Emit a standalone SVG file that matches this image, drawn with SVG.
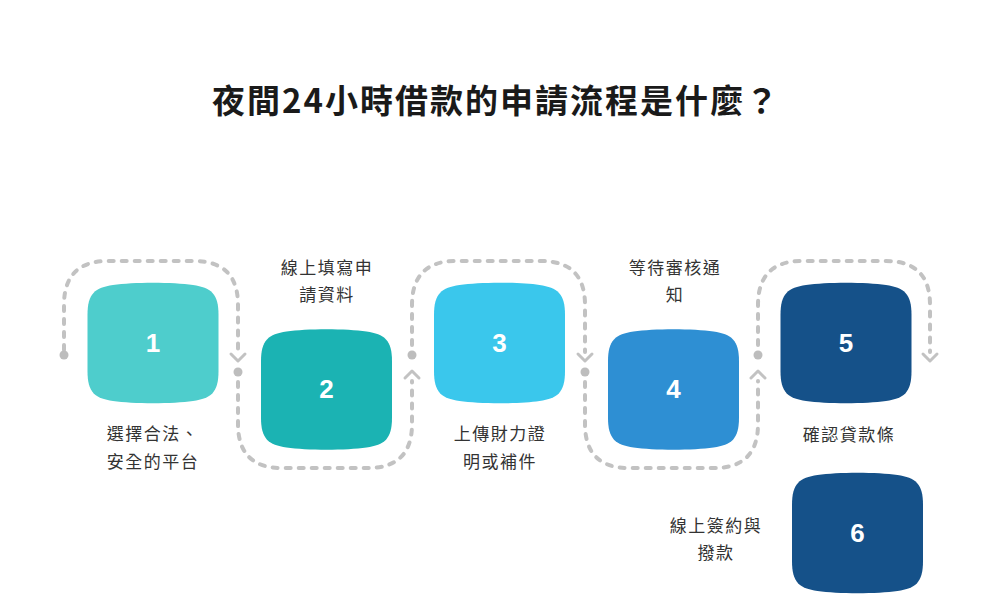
<svg xmlns="http://www.w3.org/2000/svg" width="1000" height="600" viewBox="0 0 1000 600">
<defs>
<style>
.title{font-family:"Noto Sans CJK TC","Noto Sans CJK SC",sans-serif;font-size:33px;font-weight:700;fill:#1a1a1a;letter-spacing:2px}
.lbl{font-family:"Noto Sans CJK TC","Noto Sans CJK SC",sans-serif;font-size:17px;fill:#333333;letter-spacing:1.5px}
.num{font-family:"Liberation Sans",Arial,sans-serif;font-size:26px;font-weight:700;fill:#ffffff}
.dash{fill:none;stroke:#c2c2c2;stroke-width:4;stroke-linecap:round;stroke-dasharray:5 8}
.chev{fill:none;stroke:#c2c2c2;stroke-width:3;stroke-linecap:round;stroke-linejoin:round}
.dot{fill:#bdbdbd}
</style>
<path id="blob" d="M-65.5,-28 C-65.5,-50 -58,-55 -40,-58 C-20,-61 20,-61 40,-58 C58,-55 65.5,-50 65.5,-28 L65.5,28 C65.5,50 58,55 40,58 C20,61 -20,61 -40,58 C-58,55 -65.5,50 -65.5,28 Z"/>
</defs>
<rect width="1000" height="600" fill="#ffffff"/>
<text class="title" x="496" y="113" text-anchor="middle">夜間24小時借款的申請流程是什麼？</text>

<g id="connectors">
<path class="dash" d="M64,350 L64,305 Q64,261 108,261 L194,261 Q238,261 238,305 L238,352"/>
<polyline class="chev" points="231,354 238,361 245,354"/>
<circle class="dot" cx="64" cy="355" r="4.5"/>
<circle class="dot" cx="238" cy="372" r="4.5"/>
<path class="dash" d="M238,382 L238,424 Q238,468 282,468 L368,468 Q412,468 412,424 L412,381"/>
<polyline class="chev" points="405,378 412,371 419,378"/>
<circle class="dot" cx="412" cy="355" r="4.5"/>
<path class="dash" d="M412,345 L412,305 Q412,261 456,261 L541,261 Q585,261 585,305 L585,352"/>
<polyline class="chev" points="578,354 585,361 592,354"/>
<circle class="dot" cx="585" cy="372" r="4.5"/>
<path class="dash" d="M585,382 L585,424 Q585,468 629,468 L714,468 Q758,468 758,424 L758,381"/>
<polyline class="chev" points="751,378 758,371 765,378"/>
<circle class="dot" cx="758" cy="355" r="4.5"/>
<path class="dash" d="M758,345 L758,305 Q758,261 802,261 L886,261 Q930,261 930,305 L930,352"/>
<polyline class="chev" points="923,354 930,361 937,354"/>
</g>

<g id="node1">
<use href="#blob" transform="translate(153,343)" fill="#4ecdcc"/>
<text class="num" x="153" y="352" text-anchor="middle">1</text>
<text class="lbl" text-anchor="middle" x="153" y="440">選擇合法、</text>
<text class="lbl" text-anchor="middle" x="153" y="468">安全的平台</text>
</g>
<g id="node2">
<use href="#blob" transform="translate(326.5,389.5)" fill="#1bb3b3"/>
<text class="num" x="326.5" y="398" text-anchor="middle">2</text>
<text class="lbl" text-anchor="middle" x="327" y="274">線上填寫申</text>
<text class="lbl" text-anchor="middle" x="327" y="301">請資料</text>
</g>
<g id="node3">
<use href="#blob" transform="translate(499.5,343)" fill="#3ac7ec"/>
<text class="num" x="499.5" y="352" text-anchor="middle">3</text>
<text class="lbl" text-anchor="middle" x="500" y="440">上傳財力證</text>
<text class="lbl" text-anchor="middle" x="500" y="468">明或補件</text>
</g>
<g id="node4">
<use href="#blob" transform="translate(673.5,389.5)" fill="#2e8fd3"/>
<text class="num" x="673.5" y="398" text-anchor="middle">4</text>
<text class="lbl" text-anchor="middle" x="675" y="274">等待審核通</text>
<text class="lbl" text-anchor="middle" x="675" y="301">知</text>
</g>
<g id="node5">
<use href="#blob" transform="translate(846,343)" fill="#155189"/>
<text class="num" x="846" y="352" text-anchor="middle">5</text>
<text class="lbl" text-anchor="middle" x="849" y="441">確認貸款條</text>
</g>
<g id="node6">
<use href="#blob" transform="translate(857.5,533)" fill="#155189"/>
<text class="num" x="857.5" y="542" text-anchor="middle">6</text>
<text class="lbl" text-anchor="middle" x="716" y="532">線上簽約與</text>
<text class="lbl" text-anchor="middle" x="716" y="559">撥款</text>
</g>
</svg>
